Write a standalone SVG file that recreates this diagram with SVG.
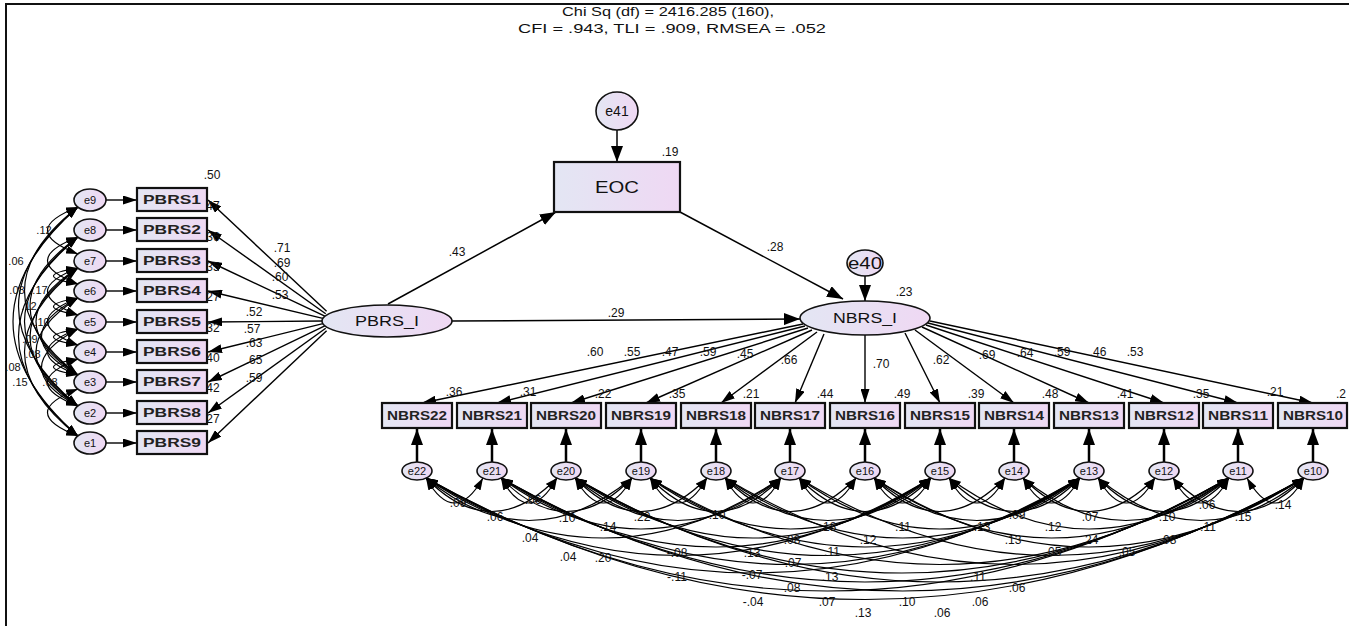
<svg xmlns="http://www.w3.org/2000/svg" width="1349" height="626" viewBox="0 0 1349 626">
<defs>
<linearGradient id="g" x1="0" y1="0" x2="1" y2="0"><stop offset="0" stop-color="#e3e6f3"/><stop offset="1" stop-color="#efd8f3"/></linearGradient>
<marker id="a" viewBox="0 0 14 9" markerWidth="14" markerHeight="9" refX="14" refY="4.5" orient="auto" markerUnits="userSpaceOnUse"><path d="M0,0L14,4.5L0,9z" fill="#000"/></marker>
<marker id="c" viewBox="0 0 16 12" markerWidth="16" markerHeight="12" refX="16" refY="6" orient="auto" markerUnits="userSpaceOnUse"><path d="M0,0L16,6L0,12z" fill="#000"/></marker>
<marker id="b" viewBox="0 0 12 8" markerWidth="12" markerHeight="8" refX="12" refY="4" orient="auto-start-reverse" markerUnits="userSpaceOnUse"><path d="M0,0L12,4L0,8z" fill="#000"/></marker>
</defs>
<style>
text{font-family:"Liberation Sans",Arial,sans-serif;fill:#111}
.box{fill:url(#g);stroke:#111;stroke-width:2.2}
.ell{fill:url(#g);stroke:#111;stroke-width:1.6}
.nl{font-size:13px;text-anchor:middle;font-weight:bold;fill:#222}
.el{font-size:11px;text-anchor:middle}
.lb{font-size:12px;text-anchor:middle}
.sm{font-size:11px;text-anchor:middle}
.r2{font-size:12px}
.ld{fill:none;stroke:#000;stroke-width:1.4;marker-end:url(#a)}
.st{fill:none;stroke:#000;stroke-width:1.5;marker-end:url(#c)}
.ea{fill:none;stroke:#000;stroke-width:2.5;marker-end:url(#c)}
.cv{fill:none;stroke:#000;stroke-width:1.2;marker-start:url(#b);marker-end:url(#b)}
</style>
<rect width="1349" height="626" fill="#fff"/>
<path d="M6,626V4H1349" fill="none" stroke="#111" stroke-width="2"/>
<g id="title">
<text class="lb" x="668" y="16" textLength="212" lengthAdjust="spacingAndGlyphs">Chi Sq (df) = 2416.285 (160),</text>
<text class="lb" x="672" y="33" textLength="308" lengthAdjust="spacingAndGlyphs">CFI = .943, TLI = .909, RMSEA = .052</text>
</g>
<g id="connectors">
<path class="st" d="M617,130V162"/>
<path class="st" d="M388,304L556,212"/>
<path class="st" d="M680,212L843,299"/>
<path class="st" d="M865,276V301"/>
<path class="st" d="M452,321L800,319"/>
<path class="ld" d="M106,200H137"/>
<path class="ld" d="M106,230H137"/>
<path class="ld" d="M106,261H137"/>
<path class="ld" d="M106,291H137"/>
<path class="ld" d="M106,322H137"/>
<path class="ld" d="M106,352H137"/>
<path class="ld" d="M106,382H137"/>
<path class="ld" d="M106,413H137"/>
<path class="ld" d="M106,443H137"/>
<path class="ld" d="M326.6,311.3L208,200"/>
<path class="ld" d="M325.7,313.7L208,230"/>
<path class="ld" d="M324.8,316.2L208,261"/>
<path class="ld" d="M323.9,318.6L208,291"/>
<path class="ld" d="M323,321L208,322"/>
<path class="ld" d="M323.9,323.4L208,352"/>
<path class="ld" d="M324.8,325.9L208,382"/>
<path class="ld" d="M325.7,328.3L208,413"/>
<path class="ld" d="M326.6,330.7L208,443"/>
<path class="cv" d="M78,207Q-52,321.5 78,436"/>
<path class="cv" d="M78,207Q-41,306.5 78,406"/>
<path class="cv" d="M78,237Q-41,336.5 78,436"/>
<path class="cv" d="M78,207Q-29,291 78,375"/>
<path class="cv" d="M78,237Q-29,321.5 78,406"/>
<path class="cv" d="M78,268Q-29,352 78,436"/>
<path class="cv" d="M78,237Q-18,306 78,375"/>
<path class="cv" d="M78,268Q-18,337 78,406"/>
<path class="cv" d="M78,298Q-6,352 78,406"/>
<path class="cv" d="M78,268Q-6,321.5 78,375"/>
<path class="cv" d="M78,298Q5,336.5 78,375"/>
<path class="cv" d="M78,329Q5,367.5 78,406"/>
<path class="cv" d="M78,237Q17,260.5 78,284"/>
<path class="cv" d="M78,268Q17,291.5 78,315"/>
<path class="cv" d="M78,298Q17,321.5 78,345"/>
<path class="cv" d="M78,329Q17,352 78,375"/>
<path class="cv" d="M78,359Q17,382.5 78,406"/>
<path class="cv" d="M78,268Q29,276 78,284"/>
<path class="cv" d="M78,298Q29,306.5 78,315"/>
<path class="cv" d="M78,329Q29,337 78,345"/>
<path class="cv" d="M78,359Q29,367 78,375"/>
<path class="cv" d="M78,207Q17,230.5 78,254"/>
<path class="cv" d="M78,389Q17,412.5 78,436"/>
<path class="ld" d="M803,324L422,403"/>
<path class="ld" d="M805,326L497,403"/>
<path class="ld" d="M808,328L571,403"/>
<path class="ld" d="M812,330L646,403"/>
<path class="ld" d="M817,332L721,403"/>
<path class="ld" d="M824,334L795,403"/>
<path class="ld" d="M865,335L865,403"/>
<path class="ld" d="M905,333L940,403"/>
<path class="ld" d="M915,330L1014,403"/>
<path class="ld" d="M922,327L1089,403"/>
<path class="ld" d="M926,325L1164,403"/>
<path class="ld" d="M928,323L1238,403"/>
<path class="ld" d="M930,321L1313,403"/>
<path class="ea" d="M417,462V429"/>
<path class="ea" d="M492,462V429"/>
<path class="ea" d="M566,462V429"/>
<path class="ea" d="M641,462V429"/>
<path class="ea" d="M716,462V429"/>
<path class="ea" d="M790,462V429"/>
<path class="ea" d="M865,462V429"/>
<path class="ea" d="M940,462V429"/>
<path class="ea" d="M1014,462V429"/>
<path class="ea" d="M1089,462V429"/>
<path class="ea" d="M1164,462V429"/>
<path class="ea" d="M1238,462V429"/>
<path class="ea" d="M1313,462V429"/>
<path class="cv" d="M426,478Q454.5,528 483,478"/>
<path class="cv" d="M501,478Q529,528 557,478"/>
<path class="cv" d="M575,478Q603.5,528 632,478"/>
<path class="cv" d="M650,478Q678.5,528 707,478"/>
<path class="cv" d="M725,478Q753,528 781,478"/>
<path class="cv" d="M799,478Q827.5,528 856,478"/>
<path class="cv" d="M874,478Q902.5,528 931,478"/>
<path class="cv" d="M949,478Q977,528 1005,478"/>
<path class="cv" d="M1023,478Q1051.5,528 1080,478"/>
<path class="cv" d="M1098,478Q1126.5,528 1155,478"/>
<path class="cv" d="M1173,478Q1201,528 1229,478"/>
<path class="cv" d="M1247,478Q1275.5,528 1304,478"/>
<path class="cv" d="M426,478Q491.5,545 557,478"/>
<path class="cv" d="M501,478Q566.5,545 632,478"/>
<path class="cv" d="M575,478Q641,545 707,478"/>
<path class="cv" d="M650,478Q715.5,545 781,478"/>
<path class="cv" d="M725,478Q790.5,545 856,478"/>
<path class="cv" d="M799,478Q865,545 931,478"/>
<path class="cv" d="M874,478Q939.5,545 1005,478"/>
<path class="cv" d="M949,478Q1014.5,545 1080,478"/>
<path class="cv" d="M1023,478Q1089,545 1155,478"/>
<path class="cv" d="M1098,478Q1163.5,545 1229,478"/>
<path class="cv" d="M1173,478Q1238.5,545 1304,478"/>
<path class="cv" d="M426,478Q529,563 632,478"/>
<path class="cv" d="M575,478Q678,563 781,478"/>
<path class="cv" d="M725,478Q828,563 931,478"/>
<path class="cv" d="M874,478Q977,563 1080,478"/>
<path class="cv" d="M1023,478Q1126,563 1229,478"/>
<path class="cv" d="M1098,478Q1201,563 1304,478"/>
<path class="cv" d="M501,478Q641,580 781,478"/>
<path class="cv" d="M650,478Q790.5,580 931,478"/>
<path class="cv" d="M799,478Q939.5,580 1080,478"/>
<path class="cv" d="M949,478Q1089,580 1229,478"/>
<path class="cv" d="M426,478Q603.5,598 781,478"/>
<path class="cv" d="M575,478Q753,598 931,478"/>
<path class="cv" d="M725,478Q902.5,598 1080,478"/>
<path class="cv" d="M874,478Q1051.5,598 1229,478"/>
<path class="cv" d="M501,478Q716,616 931,478"/>
<path class="cv" d="M650,478Q865,616 1080,478"/>
<path class="cv" d="M874,478Q1089,616 1304,478"/>
<path class="cv" d="M426,478Q678.5,633 931,478"/>
<path class="cv" d="M575,478Q827.5,633 1080,478"/>
<path class="cv" d="M799,478Q1051.5,633 1304,478"/>
<path class="cv" d="M501,478Q790.5,651 1080,478"/>
<path class="cv" d="M650,478Q939.5,651 1229,478"/>
<path class="cv" d="M725,478Q1014.5,651 1304,478"/>
<path class="cv" d="M426,478Q753,668 1080,478"/>
<path class="cv" d="M575,478Q902,668 1229,478"/>
<path class="cv" d="M501,478Q865,686 1229,478"/>
<path class="cv" d="M575,478Q939.5,686 1304,478"/>
<path class="cv" d="M426,478Q827.5,704 1229,478"/>
<path class="cv" d="M501,478Q902.5,704 1304,478"/>
<path class="cv" d="M426,478Q865,721 1304,478"/>
</g>
<g id="labels">
<text class="lb" x="670" y="156">.19</text>
<text class="lb" x="457" y="256">.43</text>
<text class="lb" x="775" y="251">.28</text>
<text class="lb" x="904" y="296">.23</text>
<text class="lb" x="616" y="317">.29</text>
<text class="lb" x="282" y="252">.71</text>
<text class="lb" x="282" y="267">.69</text>
<text class="lb" x="280" y="281">.60</text>
<text class="lb" x="280" y="299">.53</text>
<text class="lb" x="254" y="316">.52</text>
<text class="lb" x="252" y="333">.57</text>
<text class="lb" x="254" y="347">.63</text>
<text class="lb" x="254" y="364">.65</text>
<text class="lb" x="254" y="382">.59</text>
<text class="lb" x="212" y="179">.50</text>
<text class="r2" x="203" y="210">.47</text>
<text class="r2" x="203" y="241">.36</text>
<text class="r2" x="203" y="271">.35</text>
<text class="r2" x="203" y="301">.27</text>
<text class="r2" x="203" y="332">.32</text>
<text class="r2" x="203" y="362">.40</text>
<text class="r2" x="203" y="392">.42</text>
<text class="r2" x="203" y="423">.27</text>
<text class="sm" x="44" y="234">.12</text>
<text class="sm" x="16" y="265">.06</text>
<text class="sm" x="17" y="294">.08</text>
<text class="sm" x="40" y="294">.17</text>
<text class="sm" x="29" y="310">.12</text>
<text class="sm" x="42" y="326">.10</text>
<text class="sm" x="30" y="343">.09</text>
<text class="sm" x="33" y="358">.08</text>
<text class="sm" x="13" y="371">.08</text>
<text class="sm" x="20" y="386">.15</text>
<text class="sm" x="50" y="386">.08</text>
<text class="lb" x="595" y="356">.60</text>
<text class="lb" x="632" y="356">.55</text>
<text class="lb" x="670" y="356">.47</text>
<text class="lb" x="708" y="356">.59</text>
<text class="lb" x="745" y="358">.45</text>
<text class="lb" x="789" y="364">.66</text>
<text class="lb" x="881" y="368">.70</text>
<text class="lb" x="941" y="364">.62</text>
<text class="lb" x="987" y="359">.69</text>
<text class="lb" x="1025" y="357">.64</text>
<text class="lb" x="1062" y="356">.59</text>
<text class="lb" x="1098" y="356">.46</text>
<text class="lb" x="1135" y="356">.53</text>
<text class="lb" x="454" y="396">.36</text>
<text class="lb" x="528" y="396">.31</text>
<text class="lb" x="603" y="398">.22</text>
<text class="lb" x="677" y="398">.35</text>
<text class="lb" x="751" y="398">.21</text>
<text class="lb" x="825" y="398">.44</text>
<text class="lb" x="902" y="398">.49</text>
<text class="lb" x="976" y="398">.39</text>
<text class="lb" x="1050" y="398">.48</text>
<text class="lb" x="1125" y="398">.41</text>
<text class="lb" x="1201" y="398">.35</text>
<text class="lb" x="1275" y="396">.21</text>
<text class="r2" x="1336" y="398">.2</text>
<text class="lb" x="458" y="507">.09</text>
<text class="lb" x="495" y="521">.06</text>
<text class="lb" x="533" y="504">.06</text>
<text class="lb" x="567" y="522">.10</text>
<text class="lb" x="608" y="531">.14</text>
<text class="lb" x="642" y="521">.22</text>
<text class="lb" x="717" y="519">.10</text>
<text class="lb" x="530" y="542">.04</text>
<text class="lb" x="568" y="561">.04</text>
<text class="lb" x="603" y="562">.20</text>
<text class="lb" x="677" y="557">-.08</text>
<text class="lb" x="752" y="557">.13</text>
<text class="lb" x="792" y="544">.08</text>
<text class="lb" x="828" y="531">.18</text>
<text class="lb" x="793" y="567">.07</text>
<text class="lb" x="832" y="556">.11</text>
<text class="lb" x="677" y="581">-.11</text>
<text class="lb" x="752" y="579">-.07</text>
<text class="lb" x="830" y="581">.13</text>
<text class="lb" x="792" y="592">.08</text>
<text class="lb" x="753" y="606">-.04</text>
<text class="lb" x="827" y="606">.07</text>
<text class="lb" x="863" y="617">.13</text>
<text class="lb" x="903" y="531">.11</text>
<text class="lb" x="868" y="544">.12</text>
<text class="lb" x="982" y="531">.13</text>
<text class="lb" x="1013" y="544">.13</text>
<text class="lb" x="1017" y="519">.09</text>
<text class="lb" x="1053" y="531">.12</text>
<text class="lb" x="1090" y="521">.07</text>
<text class="lb" x="1090" y="544">.24</text>
<text class="lb" x="1167" y="521">.10</text>
<text class="lb" x="1208" y="531">.11</text>
<text class="lb" x="1207" y="509">.06</text>
<text class="lb" x="1243" y="521">.15</text>
<text class="lb" x="1283" y="509">.14</text>
<text class="lb" x="1168" y="544">.08</text>
<text class="lb" x="1053" y="556">.05</text>
<text class="lb" x="1127" y="556">.05</text>
<text class="lb" x="978" y="581">.11</text>
<text class="lb" x="1017" y="592">.06</text>
<text class="lb" x="907" y="606">.10</text>
<text class="lb" x="980" y="606">.06</text>
<text class="lb" x="942" y="617">.06</text>
</g>
<g id="e41"><ellipse class="ell" cx="617" cy="111" rx="21" ry="19"/><text x="617" y="116" font-size="14" text-anchor="middle">e41</text></g>
<g id="EOC"><rect class="box" x="554" y="162" width="126" height="50"/><text x="617" y="193" font-size="17" text-anchor="middle" textLength="44" lengthAdjust="spacingAndGlyphs">EOC</text></g>
<g id="PBRS_I"><ellipse class="ell" cx="387" cy="321" rx="65" ry="16"/><text x="387" y="326" font-size="14" text-anchor="middle" textLength="64" lengthAdjust="spacingAndGlyphs">PBRS_I</text></g>
<g id="e40"><ellipse class="ell" cx="865" cy="263" rx="18" ry="13"/><text x="865" y="269" font-size="17" text-anchor="middle" textLength="34" lengthAdjust="spacingAndGlyphs">e40</text></g>
<g id="NBRS_I"><ellipse class="ell" cx="865" cy="318" rx="65" ry="17"/><text x="865" y="323" font-size="14" text-anchor="middle" textLength="64" lengthAdjust="spacingAndGlyphs">NBRS_I</text></g>
<g id="e9"><ellipse class="ell" cx="90" cy="200" rx="16" ry="11"/><text class="el" x="90" y="204">e9</text></g>
<g id="e8"><ellipse class="ell" cx="90" cy="230" rx="16" ry="11"/><text class="el" x="90" y="234">e8</text></g>
<g id="e7"><ellipse class="ell" cx="90" cy="261" rx="16" ry="11"/><text class="el" x="90" y="265">e7</text></g>
<g id="e6"><ellipse class="ell" cx="90" cy="291" rx="16" ry="11"/><text class="el" x="90" y="295">e6</text></g>
<g id="e5"><ellipse class="ell" cx="90" cy="322" rx="16" ry="11"/><text class="el" x="90" y="326">e5</text></g>
<g id="e4"><ellipse class="ell" cx="90" cy="352" rx="16" ry="11"/><text class="el" x="90" y="356">e4</text></g>
<g id="e3"><ellipse class="ell" cx="90" cy="382" rx="16" ry="11"/><text class="el" x="90" y="386">e3</text></g>
<g id="e2"><ellipse class="ell" cx="90" cy="413" rx="16" ry="11"/><text class="el" x="90" y="417">e2</text></g>
<g id="e1"><ellipse class="ell" cx="90" cy="443" rx="16" ry="11"/><text class="el" x="90" y="447">e1</text></g>
<g id="PBRS1"><rect class="box" x="137" y="188" width="70" height="23"/><text class="nl" x="172" y="204" textLength="58" lengthAdjust="spacingAndGlyphs">PBRS1</text></g>
<g id="PBRS2"><rect class="box" x="137" y="218" width="70" height="23"/><text class="nl" x="172" y="234" textLength="58" lengthAdjust="spacingAndGlyphs">PBRS2</text></g>
<g id="PBRS3"><rect class="box" x="137" y="249" width="70" height="23"/><text class="nl" x="172" y="265" textLength="58" lengthAdjust="spacingAndGlyphs">PBRS3</text></g>
<g id="PBRS4"><rect class="box" x="137" y="279" width="70" height="23"/><text class="nl" x="172" y="295" textLength="58" lengthAdjust="spacingAndGlyphs">PBRS4</text></g>
<g id="PBRS5"><rect class="box" x="137" y="310" width="70" height="23"/><text class="nl" x="172" y="326" textLength="58" lengthAdjust="spacingAndGlyphs">PBRS5</text></g>
<g id="PBRS6"><rect class="box" x="137" y="340" width="70" height="23"/><text class="nl" x="172" y="356" textLength="58" lengthAdjust="spacingAndGlyphs">PBRS6</text></g>
<g id="PBRS7"><rect class="box" x="137" y="370" width="70" height="23"/><text class="nl" x="172" y="386" textLength="58" lengthAdjust="spacingAndGlyphs">PBRS7</text></g>
<g id="PBRS8"><rect class="box" x="137" y="401" width="70" height="23"/><text class="nl" x="172" y="417" textLength="58" lengthAdjust="spacingAndGlyphs">PBRS8</text></g>
<g id="PBRS9"><rect class="box" x="137" y="431" width="70" height="23"/><text class="nl" x="172" y="447" textLength="58" lengthAdjust="spacingAndGlyphs">PBRS9</text></g>
<g id="NBRS22"><rect class="box" x="382" y="403" width="70" height="25"/><text class="nl" x="417" y="420" textLength="60" lengthAdjust="spacingAndGlyphs">NBRS22</text></g>
<g id="NBRS21"><rect class="box" x="457" y="403" width="70" height="25"/><text class="nl" x="492" y="420" textLength="60" lengthAdjust="spacingAndGlyphs">NBRS21</text></g>
<g id="NBRS20"><rect class="box" x="531" y="403" width="70" height="25"/><text class="nl" x="566" y="420" textLength="60" lengthAdjust="spacingAndGlyphs">NBRS20</text></g>
<g id="NBRS19"><rect class="box" x="606" y="403" width="70" height="25"/><text class="nl" x="641" y="420" textLength="60" lengthAdjust="spacingAndGlyphs">NBRS19</text></g>
<g id="NBRS18"><rect class="box" x="681" y="403" width="70" height="25"/><text class="nl" x="716" y="420" textLength="60" lengthAdjust="spacingAndGlyphs">NBRS18</text></g>
<g id="NBRS17"><rect class="box" x="755" y="403" width="70" height="25"/><text class="nl" x="790" y="420" textLength="60" lengthAdjust="spacingAndGlyphs">NBRS17</text></g>
<g id="NBRS16"><rect class="box" x="830" y="403" width="70" height="25"/><text class="nl" x="865" y="420" textLength="60" lengthAdjust="spacingAndGlyphs">NBRS16</text></g>
<g id="NBRS15"><rect class="box" x="905" y="403" width="70" height="25"/><text class="nl" x="940" y="420" textLength="60" lengthAdjust="spacingAndGlyphs">NBRS15</text></g>
<g id="NBRS14"><rect class="box" x="979" y="403" width="70" height="25"/><text class="nl" x="1014" y="420" textLength="60" lengthAdjust="spacingAndGlyphs">NBRS14</text></g>
<g id="NBRS13"><rect class="box" x="1054" y="403" width="70" height="25"/><text class="nl" x="1089" y="420" textLength="60" lengthAdjust="spacingAndGlyphs">NBRS13</text></g>
<g id="NBRS12"><rect class="box" x="1129" y="403" width="70" height="25"/><text class="nl" x="1164" y="420" textLength="60" lengthAdjust="spacingAndGlyphs">NBRS12</text></g>
<g id="NBRS11"><rect class="box" x="1203" y="403" width="70" height="25"/><text class="nl" x="1238" y="420" textLength="60" lengthAdjust="spacingAndGlyphs">NBRS11</text></g>
<g id="NBRS10"><rect class="box" x="1278" y="403" width="69" height="25"/><text class="nl" x="1313" y="420" textLength="60" lengthAdjust="spacingAndGlyphs">NBRS10</text></g>
<g id="e22"><ellipse class="ell" cx="417" cy="471" rx="15" ry="9"/><text class="el" x="417" y="475">e22</text></g>
<g id="e21"><ellipse class="ell" cx="492" cy="471" rx="15" ry="9"/><text class="el" x="492" y="475">e21</text></g>
<g id="e20"><ellipse class="ell" cx="566" cy="471" rx="15" ry="9"/><text class="el" x="566" y="475">e20</text></g>
<g id="e19"><ellipse class="ell" cx="641" cy="471" rx="15" ry="9"/><text class="el" x="641" y="475">e19</text></g>
<g id="e18"><ellipse class="ell" cx="716" cy="471" rx="15" ry="9"/><text class="el" x="716" y="475">e18</text></g>
<g id="e17"><ellipse class="ell" cx="790" cy="471" rx="15" ry="9"/><text class="el" x="790" y="475">e17</text></g>
<g id="e16"><ellipse class="ell" cx="865" cy="471" rx="15" ry="9"/><text class="el" x="865" y="475">e16</text></g>
<g id="e15"><ellipse class="ell" cx="940" cy="471" rx="15" ry="9"/><text class="el" x="940" y="475">e15</text></g>
<g id="e14"><ellipse class="ell" cx="1014" cy="471" rx="15" ry="9"/><text class="el" x="1014" y="475">e14</text></g>
<g id="e13"><ellipse class="ell" cx="1089" cy="471" rx="15" ry="9"/><text class="el" x="1089" y="475">e13</text></g>
<g id="e12"><ellipse class="ell" cx="1164" cy="471" rx="15" ry="9"/><text class="el" x="1164" y="475">e12</text></g>
<g id="e11"><ellipse class="ell" cx="1238" cy="471" rx="15" ry="9"/><text class="el" x="1238" y="475">e11</text></g>
<g id="e10"><ellipse class="ell" cx="1313" cy="471" rx="15" ry="9"/><text class="el" x="1313" y="475">e10</text></g>
</svg>
